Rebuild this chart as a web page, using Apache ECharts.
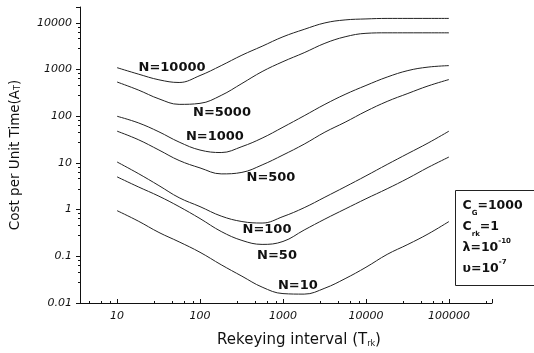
<!DOCTYPE html>
<html>
<head>
<meta charset="utf-8">
<script src="https://cdn.jsdelivr.net/npm/echarts@6/dist/echarts.min.js"></script>
<style>
  html, body { margin: 0; padding: 0; background: #fff; }
  #chart { width: 534px; height: 353px; }
</style>
</head>
<body>
<div id="chart"></div>
<script>
// rekeying interval (x) shared by all curves, quarter-decade steps
const rekeyInterval = [10, 18, 32, 56, 100, 180, 320, 560, 1000, 1800, 3200, 5600, 10000, 18000, 32000, 56000, 100000];

// cost per unit time for each group size N
const costN10000 = [1100, 802, 604, 529, 745, 1216, 2035, 3162, 5040, 7270, 10000, 11580, 12160, 12470, 12470, 12470, 12470];
const costN5000 = [542, 366, 236, 180, 189, 280, 504, 906, 1480, 2300, 3660, 5040, 5980, 6130, 6130, 6130, 6130];
const costN1000 = [100, 72.4, 46.4, 28, 18.9, 16.7, 22.4, 34, 58.3, 102.5, 180, 294, 457, 692, 952, 1130, 1216];
const costN500 = [48, 31.6, 18.9, 11.3, 7.83, 5.83, 6.28, 9.06, 14.8, 25.3, 45.7, 74.5, 128, 208, 308, 446, 612];
const costN100 = [10.5, 5.95, 3.27, 1.8, 1.16, 0.727, 0.556, 0.516, 0.71, 1.1, 1.85, 3.08, 5.29, 9.29, 15.9, 26.7, 48];
const costN50 = [5.04, 3.08, 1.94, 1.16, 0.644, 0.34, 0.219, 0.18, 0.208, 0.366, 0.628, 1.03, 1.71, 2.8, 4.68, 8.02, 13.4];
const costN10 = [0.952, 0.569, 0.324, 0.204, 0.122, 0.0659, 0.0375, 0.0219, 0.0159, 0.0155, 0.0208, 0.0332, 0.0583, 0.11, 0.18, 0.301, 0.556];

const seriesNames = ["N=10000", "N=5000", "N=1000", "N=500", "N=100", "N=50", "N=10"];
const seriesValues = [costN10000, costN5000, costN1000, costN500, costN100, costN50, costN10];

// where each curve's name is written (data coords)
const labelX = [46, 184, 151, 716, 641, 847, 1510];
const labelY = [1100, 122, 36, 4.8, 0.375, 0.105, 0.024];

const yTickLabels = ["0.01", "0.1", "1", "10", "100", "1000", "10000"];
const xTickLabels = ["10", "100", "1000", "10000", "100000"];

const chart = echarts.init(document.getElementById("chart"));

const isPow10 = (v) => Math.abs(Math.log10(v) - Math.round(Math.log10(v))) < 1e-6;

const tickFormatter = (labels) => (v) => {
  if (!isPow10(v)) return "";
  const e = Math.round(Math.log10(v));
  const s = e < 0 ? v.toFixed(-e) : String(Math.round(v));
  return labels.indexOf(s) >= 0 ? s : "";
};

const font = "DejaVu Sans, Arial, sans-serif";

const option = {
  animation: false,
  grid: { left: 80, right: 42, top: 7, bottom: 48 },
  xAxis: {
    type: "log",
    logBase: 10,
    min: 3.58,
    max: 330000,
    name: "Rekeying interval (T{sub|rk})",
    nameLocation: "middle",
    nameGap: 30,
    nameTextStyle: {
      color: "#111",
      fontFamily: font,
      fontSize: 15,
      padding: [0, 0, 0, 26],
      rich: { sub: { fontSize: 8, verticalAlign: "bottom", padding: [7, 0, 0, 0], fontFamily: font } },
    },
    axisLine: { lineStyle: { color: "#111", width: 1 } },
    axisTick: { inside: true, length: 4, lineStyle: { color: "#111" } },
    minorTick: { show: true, splitNumber: 5, length: 2, lineStyle: { color: "#111" } },
    axisLabel: {
      color: "#111",
      fontFamily: font,
      fontStyle: "italic",
      fontSize: 11,
      margin: 8,
      formatter: tickFormatter(xTickLabels),
    },
    splitLine: { show: false },
  },
  yAxis: {
    type: "log",
    logBase: 10,
    min: 0.01,
    max: 21900,
    name: "Cost per Unit Time(A{sub|T})",
    nameLocation: "middle",
    nameGap: 58,
    nameRotate: 90,
    nameTextStyle: {
      color: "#111",
      fontFamily: font,
      fontSize: 13.5,
      rich: { sub: { fontSize: 8, verticalAlign: "bottom", padding: [6, 0, 0, 0], fontFamily: font } },
    },
    axisLine: { lineStyle: { color: "#111", width: 1 } },
    axisTick: { inside: false, length: 4, lineStyle: { color: "#111" } },
    minorTick: { show: true, splitNumber: 5, length: 2, lineStyle: { color: "#111" } },
    axisLabel: {
      color: "#111",
      fontFamily: font,
      fontStyle: "italic",
      fontSize: 11,
      margin: 8,
      formatter: tickFormatter(yTickLabels),
    },
    splitLine: { show: false },
  },
  series: seriesNames.map((name, i) => ({
    name: name,
    type: "line",
    smooth: 0.4,
    showSymbol: false,
    lineStyle: { color: "#222", width: 1 },
    data: rekeyInterval.map((x, j) => [x, seriesValues[i][j]]),
    markPoint: {
      symbol: "circle",
      symbolSize: 0,
      silent: true,
      label: {
        show: true,
        position: "inside",
        formatter: name,
        color: "#111",
        fontFamily: font,
        fontSize: 13,
        fontWeight: "bold",
      },
      data: [{ coord: [labelX[i], labelY[i]] }],
    },
  })),
  graphic: [
    {
      type: "group",
      left: 455,
      top: 190,
      children: [
        {
          type: "rect",
          shape: { x: 0, y: 0, width: 110, height: 95 },
          style: { fill: "#fff", stroke: "#222", lineWidth: 1 },
        },
        {
          type: "text",
          left: 7,
          top: 5,
          style: {
            text: "C{s|G}=1000\nC{s|rk}=1\nλ=10{p|-10}\nυ=10{p|-7}",
            font: "bold 12.5px " + font,
            fill: "#111",
            lineHeight: 21,
            rich: {
              s: { font: "bold 7px " + font, verticalAlign: "bottom", padding: [8, 0, 0, 0], lineHeight: 21 },
              p: { font: "bold 7px " + font, verticalAlign: "top", padding: [0, 0, 6, 0], lineHeight: 21 },
            },
          },
        },
      ],
    },
  ],
};

chart.setOption(option);
</script>
</body>
</html>
